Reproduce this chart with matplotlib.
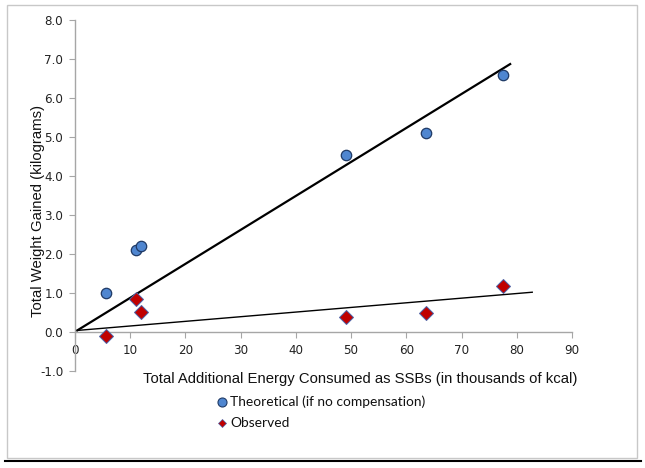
import matplotlib
matplotlib.use("Agg")
import matplotlib.pyplot as plt
from matplotlib.lines import Line2D
from matplotlib.patches import Rectangle

# Data
energy = [5.6, 11.0, 12.0, 49.0, 63.5, 77.5]
theoretical = [1.0, 2.1, 2.2, 4.55, 5.1, 6.6]
observed = [-0.1, 0.85, 0.52, 0.38, 0.5, 1.17]
# trend line endpoints (x, y)
trend_theo_x = [0.4, 78.8]
trend_theo_y = [0.04, 6.87]
trend_obs_x = [0.4, 82.8]
trend_obs_y = [0.04, 1.02]
xticks = [0, 10, 20, 30, 40, 50, 60, 70, 80, 90]
yticks = [-1.0, 0.0, 1.0, 2.0, 3.0, 4.0, 5.0, 6.0, 7.0, 8.0]

W, H = 645, 468
fig = plt.figure(figsize=(W / 100, H / 100), dpi=100)
ax = fig.add_axes([75 / W, 1 - 371 / H, (572 - 75) / W, (371 - 20) / H])

axis_col = "#a6a6a6"
ax.set_xlim(0, 90)
ax.set_ylim(-1, 8)
ax.spines["top"].set_visible(False)
ax.spines["right"].set_visible(False)
ax.spines["bottom"].set_position(("data", 0))
for s in ("left", "bottom"):
    ax.spines[s].set_color(axis_col)
    ax.spines[s].set_linewidth(1.0)
ax.set_xticks(xticks)
ax.set_yticks(yticks)
ax.set_xticklabels([str(v) for v in xticks])
ax.set_yticklabels([f"{v:.1f}" for v in yticks])
ax.tick_params(axis="both", direction="out", length=4, width=0.8, color=axis_col,
               labelsize=8.6, labelcolor="#222222")
ax.tick_params(axis="x", pad=5)
ax.tick_params(axis="y", pad=4.5)
for lab in ax.get_xticklabels() + ax.get_yticklabels():
    lab.set_fontfamily("DejaVu Sans")

ax.plot(trend_theo_x, trend_theo_y, color="black", lw=1.6, zorder=2)
ax.plot(trend_obs_x, trend_obs_y, color="black", lw=1.0, zorder=2)
ax.plot(energy, theoretical, linestyle="none", marker="o", markersize=7.5,
        markerfacecolor="#4f86d0", markeredgecolor="#1f3a66", markeredgewidth=0.9, zorder=3)
ax.plot(energy, observed, linestyle="none", marker="D", markersize=7.0,
        markerfacecolor="#c00000", markeredgecolor="#4a63a8", markeredgewidth=0.7, zorder=3)

fig.text(360 / W, 1 - 379 / H, "Total Additional Energy Consumed as SSBs (in thousands of kcal)",
         ha="center", va="center", fontsize=10.7, family="Liberation Sans", color="#111111")
fig.text(38 / W, 1 - 211 / H, "Total Weight Gained (kilograms)", rotation=90,
         ha="center", va="center", fontsize=10.7, family="Liberation Sans", color="#111111")

# legend
fig.add_artist(Line2D([222 / W], [1 - 402 / H], marker="o", markersize=6.5, linestyle="none",
                      markerfacecolor="#4f86d0", markeredgecolor="#1f3a66", markeredgewidth=0.8,
                      transform=fig.transFigure))
fig.text(230 / W, 1 - 402 / H, "Theoretical (if no compensation)", ha="left", va="center",
         fontsize=9.9, family="Lato", color="#111111")
fig.add_artist(Line2D([222 / W], [1 - 423 / H], marker="D", markersize=4.5, linestyle="none",
                      markerfacecolor="#c00000", markeredgecolor="#4a63a8", markeredgewidth=0.5,
                      transform=fig.transFigure))
fig.text(230 / W, 1 - 423 / H, "Observed", ha="left", va="center",
         fontsize=9.9, family="Lato", color="#111111")

# chart border and bottom rule
fig.add_artist(Rectangle((7 / W, 1 - 458 / H), (637 - 7) / W, (458 - 5) / H,
                         transform=fig.transFigure, fill=False, edgecolor="#c8c8c8", lw=1.0))
fig.add_artist(Line2D([5 / W, 641 / W], [1 - 461 / H, 1 - 461 / H], color="black", lw=1.5,
                      transform=fig.transFigure))

fig.savefig("out.png", dpi=100)
